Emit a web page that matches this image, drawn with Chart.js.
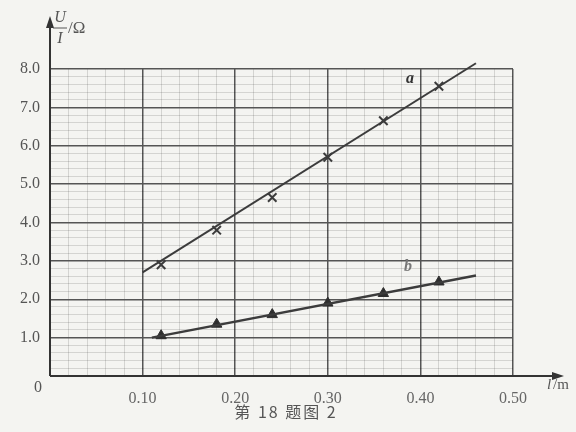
<!DOCTYPE html>
<html>
<head>
<meta charset="utf-8">
<script src="https://cdn.jsdelivr.net/npm/chart.js@4"></script>
<style>
  body { margin: 0; background: #f4f4f1; }
  canvas { display: block; }
</style>
</head>
<body>
<canvas id="c" width="576" height="432"></canvas>
<script>
const lengths = [0.12, 0.18, 0.24, 0.30, 0.36, 0.42];
const ratioA = [2.9, 3.8, 4.65, 5.7, 6.65, 7.55];
const ratioB = [1.05, 1.35, 1.6, 1.9, 2.15, 2.45];
// hand drawn fit lines (end points)
const fitAx = [0.10, 0.46];
const fitAy = [2.70, 8.15];
const fitBx = [0.11, 0.46];
const fitBy = [1.00, 2.62];

const ink = '#3c3c3c';
const serif = "'Liberation Serif', 'DejaVu Serif', serif";
const minorGrid = 'rgba(0,0,0,0.13)';

const pts = (xs, ys) => xs.map((x, i) => ({ x: x, y: ys[i] }));

// x grid every 0.02, label every 0.10 ; y grid every 0.2, label every 1.0
const isMajorX = v => Math.round(v / 0.02) % 5 === 0;
const isMajorY = v => Math.round(v / 0.2) % 5 === 0;

const extras = {
  id: 'extras',
  afterDraw(chart) {
    const c = chart.ctx;
    const x0 = chart.scales.x.getPixelForValue(0);
    const y0 = chart.scales.y.getPixelForValue(0);
    c.save();
    c.strokeStyle = '#333';
    c.fillStyle = '#333';
    c.lineWidth = 2;
    // y axis + arrow
    c.beginPath(); c.moveTo(x0, y0); c.lineTo(x0, 24); c.stroke();
    c.beginPath(); c.moveTo(x0, 16); c.lineTo(x0 - 4, 28); c.lineTo(x0 + 4, 28); c.closePath(); c.fill();
    // x axis + arrow
    c.beginPath(); c.moveTo(x0, y0); c.lineTo(556, y0); c.stroke();
    c.beginPath(); c.moveTo(564, y0); c.lineTo(552, y0 - 4); c.lineTo(552, y0 + 4); c.closePath(); c.fill();

    c.fillStyle = '#555';
    c.textBaseline = 'middle';
    c.textAlign = 'center';
    c.font = '16px ' + serif;
    c.fillText('0', 38, 388);
    // axis titles
    c.font = 'italic 16px ' + serif;
    c.fillText('U', 60, 18);
    c.fillText('I', 60, 39);
    c.lineWidth = 1;
    c.strokeStyle = '#555';
    c.beginPath(); c.moveTo(53, 28); c.lineTo(67, 28); c.stroke();
    c.textAlign = 'left';
    c.font = '17px ' + serif;
    c.fillText('/Ω', 68, 29);
    c.font = 'italic 15px ' + serif;
    c.fillText('l', 547, 385);
    c.font = '15px ' + serif;
    c.fillText('/m', 553, 385);
    // line names
    c.fillStyle = '#333';
    c.font = 'italic bold 16px ' + serif;
    c.fillText('a', 406, 79);
    c.fillStyle = '#777';
    c.fillText('b', 404, 267);
    // caption
    c.fillStyle = '#555';
    c.textAlign = 'center';
    c.letterSpacing = '2px';
    c.font = "16px 'Noto Sans CJK SC', sans-serif";
    c.fillText('第 18 题图 2', 286, 412);
    c.restore();
  }
};

new Chart(document.getElementById('c'), {
  type: 'scatter',
  data: {
    datasets: [
      {
        type: 'line', data: pts(fitAx, fitAy), borderColor: ink, borderWidth: 2,
        pointRadius: 0, clip: false
      },
      {
        type: 'line', data: pts(fitBx, fitBy), borderColor: ink, borderWidth: 2.5,
        pointRadius: 0, clip: false
      },
      {
        data: pts(lengths, ratioA), pointStyle: 'crossRot', pointRadius: 6,
        borderColor: ink, borderWidth: 2
      },
      {
        data: pts(lengths, ratioB), pointStyle: 'triangle', pointRadius: 6,
        backgroundColor: '#2e2e2e', borderColor: '#2e2e2e', borderWidth: 1
      }
    ]
  },
  options: {
    responsive: false,
    animation: false,
    devicePixelRatio: 1,
    layout: { padding: { left: 10, right: 63, top: 69, bottom: 16 } },
    plugins: { legend: { display: false }, tooltip: { enabled: false } },
    scales: {
      x: {
        type: 'linear', min: 0, max: 0.5,
        afterFit: s => { s.height = 40; },
        border: { display: false },
        grid: {
          drawTicks: false,
          color: ctx => isMajorX(ctx.tick.value) ? '#555' : minorGrid,
          lineWidth: ctx => isMajorX(ctx.tick.value) ? 1.5 : 1
        },
        ticks: {
          stepSize: 0.02, autoSkip: false, maxRotation: 0, padding: 13,
          color: '#666', font: { family: serif, size: 16 },
          callback: v => (isMajorX(v) && v > 0.001) ? v.toFixed(2) : ''
        }
      },
      y: {
        type: 'linear', min: 0, max: 8,
        afterFit: s => { s.width = 40; },
        border: { display: false },
        grid: {
          drawTicks: false,
          color: ctx => isMajorY(ctx.tick.value) ? '#555' : minorGrid,
          lineWidth: ctx => isMajorY(ctx.tick.value) ? 1.5 : 1
        },
        ticks: {
          stepSize: 0.2, autoSkip: false, padding: 10,
          color: '#555', font: { family: serif, size: 16 },
          callback: v => (isMajorY(v) && v > 0.001) ? v.toFixed(1) : ''
        }
      }
    }
  },
  plugins: [extras]
});
</script>
</body>
</html>
